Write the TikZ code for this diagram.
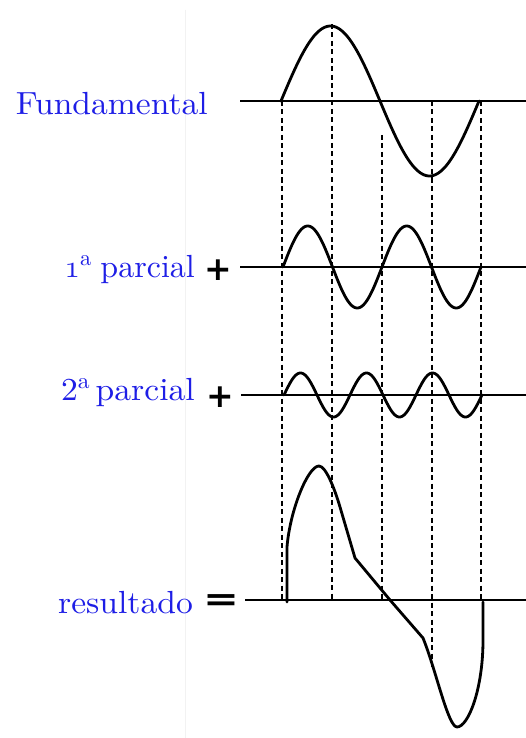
\RequirePackage{fix-cm}
\documentclass[tikz,border=0pt]{standalone}
\usepackage{fontspec}
\newfontfamily\opfont{DejaVu Sans}
\newfontfamily\labfont{lmroman10-regular}[Extension=.otf]
\usepackage{xcolor}
\definecolor{lblue}{RGB}{30,30,230}
\newcommand{\oldone}{{\fontencoding{OML}\fontfamily{cmm}\fontseries{m}\fontshape{it}\selectfont 1}}
\begin{document}
\begin{tikzpicture}[x=1pt,y=-1pt,
  lab/.style={text=lblue,inner sep=0pt,font=\labfont\fontsize{32}{34}\selectfont},
  op/.style={inner sep=0pt,font=\opfont\bfseries\fontsize{33}{33}\selectfont},
  axis/.style={line width=1.4pt},
  wave/.style={line width=2.8pt,line join=round,line cap=round},
  guide/.style={line width=1.1pt,dash pattern=on 5pt off 3.5pt}]
\useasboundingbox (0,0) rectangle (526,738);
\fill[white] (0,0) rectangle (526,738);
\draw[gray!10,line width=1pt] (185,10) -- (185,738);
% labels
\node[lab,anchor=base east] (fund) at (208,115) {\scalebox{1.05}[1]{Fundamental}};
\node[lab,anchor=base east] (p1) at (195,277) {\oldone\textsuperscript{a}\kern-2pt\ parcial};
\node[lab,anchor=base east] (p2) at (195,400) {\scalebox{1.05}[1]{2\textsuperscript{a}\,parcial}};
\node[lab,anchor=base east] (res) at (193,613) {\scalebox{1.05}[1]{resultado}};
\node[op] (plus1) at (218,270) {+};
\node[op] (plus2) at (220,397) {+};
\node[op] (eq) at (221,603) {\scalebox{1.3}[1]{=}};
% axes
\draw[axis] (240,101) -- (526,101);
\draw[axis] (240,267) -- (526,267);
\draw[axis] (241,395) -- (526,395);
\draw[axis] (245,600) -- (526,600);
% dashed guides
\draw[guide] (282,101) -- (282,600);
\draw[guide] (332,24) -- (332,600);
\draw[guide] (382,135) -- (382,600);
\draw[guide] (432,101) -- (432,670);
\draw[guide] (481,101) -- (481,600);
% waves
\draw[wave] plot[domain=0:360,samples=120] ({281+\x/360*198},{101-75*sin(\x)});
\draw[wave] plot[domain=0:720,samples=200] ({283+\x/720*198},{267-41*sin(\x)});
\draw[wave] plot[domain=0:1080,samples=260] ({284+\x/1080*198},{395-22*sin(\x)});
% result
\draw[wave] (287,602) -- (287,547)
  .. controls (290,510) and (308,466) .. (319,466)
  .. controls (326,466) and (335,490) .. (340,507)
  -- (355,558) -- (390,600) -- (423,638)
  .. controls (436,670) and (448,727) .. (457,727)
  .. controls (468,727) and (483,690) .. (483,640)
  -- (483,602);
\end{tikzpicture}
\end{document}
